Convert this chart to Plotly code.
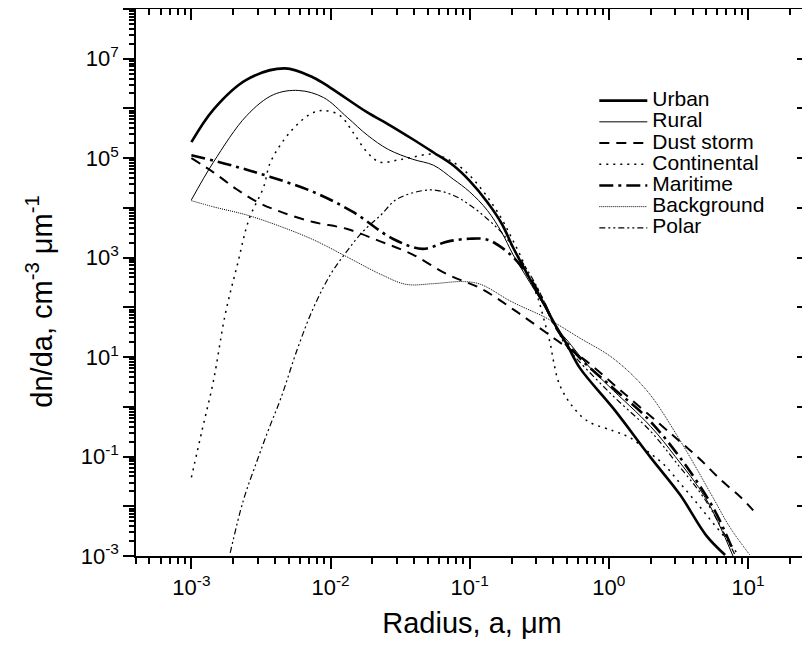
import plotly.graph_objects as go

# ---------------- data ----------------
urban_a = [1.0e-3, 1.44e-3, 2.5e-3, 4.7e-3, 7.5e-3, 1.0e-2, 1.84e-2, 2.6e-2, 3.9e-2, 5.5e-2,
           7.6e-2, 0.1, 0.134, 0.17, 0.205, 0.27, 0.34, 0.425, 0.5, 0.62, 1.07, 2.0, 3.25, 5.0, 6.84]
urban_v = [2.1e5, 9.5e5, 3.8e6, 6.4e6, 4.2e6, 2.6e6, 8.3e5, 4.8e5, 2.4e5, 1.3e5,
           7.2e4, 3.5e4, 1.3e4, 4.8e3, 1.6e3, 380, 120, 38, 18, 6.0, 0.95, 0.095, 0.017, 2.6e-3, 1.05e-3]

rural_a = [1.0e-3, 1.44e-3, 2.5e-3, 3.9e-3, 5.9e-3, 8.9e-3, 1.32e-2, 1.84e-2, 2.6e-2, 3.9e-2,
           5.5e-2, 7.6e-2, 0.1, 0.134, 0.17, 0.205, 0.27, 0.34, 0.42, 0.5, 0.7, 1.0, 2.0, 3.0, 5.0, 7.8]
rural_v = [1.45e4, 8.3e4, 7.2e5, 1.9e6, 2.3e6, 1.66e6, 6.6e5, 2.9e5, 1.5e5, 9.5e4,
           7.2e4, 3.8e4, 2.1e4, 8.9e3, 3.2e3, 1.15e3, 320, 112, 38, 22, 7.0, 2.6, 0.4, 0.1, 0.014, 1.0e-3]

dust_a = [1.0e-3, 1.44e-3, 2.1e-3, 3.0e-3, 4.4e-3, 7.5e-3, 1.3e-2, 2.3e-2, 3.9e-2, 6.9e-2,
          0.12, 0.22, 0.42, 0.7, 1.2, 2.3, 3.25, 4.5, 6.3, 8.9, 10.9]
dust_v = [1.0e5, 5.2e4, 2.4e4, 1.3e4, 8.3e3, 5.2e3, 3.8e3, 2.1e3, 1.15e3, 460,
          240, 80, 22, 8.0, 2.2, 0.46, 0.2, 0.089, 0.035, 0.015, 8.3e-3]

cont_a = [1.0e-3, 1.2e-3, 1.44e-3, 1.75e-3, 2.14e-3, 2.6e-3, 3.3e-3, 3.7e-3, 5.1e-3, 7.1e-3,
          8.9e-3, 1.17e-2, 1.45e-2, 1.84e-2, 2.27e-2, 3.0e-2, 3.9e-2, 5.5e-2, 7.6e-2, 0.1,
          0.134, 0.17, 0.2, 0.235, 0.27, 0.31, 0.34, 0.38, 0.40, 0.44, 0.53, 0.70, 1.07, 1.42, 1.88,
          2.45, 3.25, 4.3, 5.6, 7.4, 8.5]
cont_v = [0.038, 0.36, 3.3, 72, 720, 6.0e3, 2.6e4, 8.3e4, 3.3e5, 7.6e5,
          9.1e5, 7.2e5, 3.3e5, 1.3e5, 8.3e4, 9.1e4, 1.05e5, 1.2e5, 8.3e4, 4.5e4,
          1.66e4, 6.0e3, 2.5e3, 1.0e3, 380, 150, 60, 18, 8.3, 2.9, 1.15, 0.52, 0.33, 0.24, 0.13,
          0.072, 0.029, 0.0115, 4.6e-3, 1.8e-3, 1.05e-3]

mar_a = [1.0e-3, 2.0e-3, 3.7e-3, 7.5e-3, 1.45e-2, 2.8e-2, 4.6e-2, 6.9e-2, 0.1, 0.134,
         0.175, 0.22, 0.29, 0.34, 0.42, 0.62, 1.07, 1.88, 3.25, 5.6, 7.8]
mar_v = [1.15e5, 7.0e4, 4.2e4, 2.1e4, 8.3e3, 2.4e3, 1.5e3, 2.1e3, 2.4e3, 2.3e3,
         1.5e3, 830, 290, 130, 38, 9.5, 2.4, 0.6, 0.095, 9.5e-3, 1.3e-3]

back_a = [1.0e-3, 1.44e-3, 2.5e-3, 4.4e-3, 7.5e-3, 1.3e-2, 2.3e-2, 3.5e-2, 5.5e-2, 9.0e-2,
          0.12, 0.2, 0.36, 0.62, 1.07, 1.88, 3.25, 5.6, 7.4, 10.3]
back_v = [1.4e4, 1.05e4, 7.2e3, 4.2e3, 2.3e3, 1.05e3, 460, 290, 300, 330,
          290, 130, 60, 24, 9.5, 2.1, 0.21, 0.015, 3.8e-3, 1.05e-3]

polar_a = [1.9e-3, 2.36e-3, 3.0e-3, 3.6e-3, 4.4e-3, 5.8e-3, 7.5e-3, 1.0e-2, 1.3e-2, 1.7e-2,
           2.3e-2, 3.0e-2, 5.2e-2, 7.6e-2, 0.1, 0.134, 0.175, 0.23, 0.3, 0.42, 0.5, 1.0,
           2.0, 3.0, 5.0, 8.0]
polar_v = [1.15e-3, 0.013, 0.09, 0.36, 1.5, 15, 95, 460, 1.3e3, 3.3e3,
           7.2e3, 1.5e4, 2.3e4, 1.8e4, 1.15e4, 6.0e3, 2.9e3, 950, 280, 38, 16, 2.0,
           0.32, 0.08, 0.0126, 1.1e-3]

series = [
    ("Urban", urban_a, urban_v, dict(width=2.6, dash="solid")),
    ("Rural", rural_a, rural_v, dict(width=1.0, dash="solid")),
    ("Dust storm", dust_a, dust_v, dict(width=2.0, dash="10px,7px")),
    ("Continental", cont_a, cont_v, dict(width=1.5, dash="2px,5px")),
    ("Maritime", mar_a, mar_v, dict(width=2.6, dash="14px,5px,3px,5px")),
    ("Background", back_a, back_v, dict(width=1.0, dash="1px,1px")),
    ("Polar", polar_a, polar_v, dict(width=1.2, dash="6px,3px,2px,3px,2px,3px")),
]

# ---------------- axis ticks ----------------
y_powers = list(range(-3, 9))
y_tickvals = [10.0 ** p for p in y_powers]
y_ticktext = [f"10<sup>{p}</sup>" if p % 2 else "" for p in y_powers]
y_minor = [m * 10.0 ** p for p in range(-3, 8) for m in range(2, 10)]

x_powers = list(range(-3, 2))
x_tickvals = [10.0 ** p for p in x_powers]
x_ticktext = [f"10<sup>{p}</sup>" for p in x_powers]
x_minor = [m * 10.0 ** p for p in range(-4, 2) for m in range(2, 10)]

X_RANGE = [-3.398, 1.431]
Y_RANGE = [-3, 8]

X_TITLE = "Radius, a, μm"
Y_TITLE = "dn/da, cm<sup>-3</sup> μm<sup>-1</sup>"

FONT = "Liberation Sans, Arial, sans-serif"
LEGEND_TEXT_SIZE = 21

fig = go.Figure()
for name, a, v, ln in series:
    fig.add_trace(go.Scatter(
        x=a, y=v, mode="lines", line_shape="spline",
        name=f'<span style="font-size:{LEGEND_TEXT_SIZE}px">{name}</span>',
        line=dict(color="black", **ln)))

# empty trace so the mirrored (top / right) axes with inward ticks are drawn
fig.add_trace(go.Scatter(x=[None], y=[None], xaxis="x2", yaxis="y2", mode="lines",
                         showlegend=False, hoverinfo="skip"))

tickfont = dict(family=FONT, size=22, color="black")
common = dict(type="log", showgrid=False, zeroline=False, showline=True, automargin=False,
              linecolor="black", linewidth=1.5, tickcolor="black", tickwidth=1.5)

fig.update_layout(
    width=810, height=653,
    margin=dict(l=128, r=10, t=1, b=105),
    paper_bgcolor="white", plot_bgcolor="white",
    font=dict(family=FONT, color="black"),
    xaxis=dict(**common, range=X_RANGE, tickmode="array", tickvals=x_tickvals, ticktext=x_ticktext,
               ticks="outside", ticklen=11, tickfont=tickfont,
               minor=dict(tickmode="array", tickvals=x_minor, ticks="outside", ticklen=6,
                          tickcolor="black", tickwidth=1.5),
               title=dict(text=X_TITLE, font=dict(family=FONT, size=29), standoff=14)),
    yaxis=dict(**common, range=Y_RANGE, tickmode="array", tickvals=y_tickvals, ticktext=y_ticktext,
               ticks="outside", ticklen=11, tickfont=tickfont,
               minor=dict(tickmode="array", tickvals=y_minor, ticks="outside", ticklen=5,
                          tickcolor="black", tickwidth=1.5)),
    xaxis2=dict(**common, range=X_RANGE, overlaying="x", side="top", anchor="y",
                tickmode="array", tickvals=x_tickvals, ticks="inside", ticklen=11, showticklabels=False,
                minor=dict(tickmode="array", tickvals=x_minor, ticks="inside", ticklen=6,
                           tickcolor="black", tickwidth=1.5)),
    yaxis2=dict(**common, range=Y_RANGE, overlaying="y", side="right", anchor="x",
                tickmode="array", tickvals=y_tickvals, ticks="inside", ticklen=11, showticklabels=False,
                minor=dict(tickmode="array", tickvals=y_minor, ticks="inside", ticklen=5,
                           tickcolor="black", tickwidth=1.5)),
    legend=dict(x=0.682, y=0.861, xanchor="left", yanchor="top", bgcolor="rgba(0,0,0,0)",
                font=dict(family=FONT, size=14, color="black"), itemwidth=48, tracegroupgap=0),
    showlegend=True,
    annotations=[dict(text=Y_TITLE, textangle=-90, xref="paper", yref="paper",
                      x=0, y=0.465, xanchor="center", yanchor="middle", xshift=-97,
                      showarrow=False, font=dict(family=FONT, size=29, color="black"))],
)

fig.write_html("out.html")
